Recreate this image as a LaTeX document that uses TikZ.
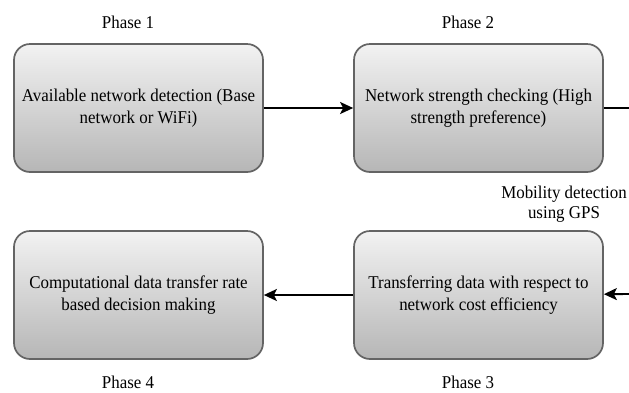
\documentclass[tikz,border=0pt]{standalone}
\usepackage{fontspec}
\setmainfont{Liberation Serif}[FakeStretch=0.94]
\usetikzlibrary{arrows.meta}
\definecolor{boxtop}{RGB}{242,242,242}
\definecolor{boxbottom}{RGB}{182,182,182}
\definecolor{boxline}{RGB}{100,100,100}
\begin{document}
\begin{tikzpicture}[x=1pt,y=-1pt,
  phasebox/.style={draw=boxline, line width=1.7pt, rounded corners=16pt,
    top color=boxtop, bottom color=boxbottom,
    minimum width=249pt, minimum height=128pt, inner sep=0pt,
    align=center, font=\fontsize{18}{21.5}\selectfont},
  flow/.style={line width=1.9pt, -{Stealth[length=13pt,width=12pt,inset=3pt]}},
  plain/.style={line width=1.9pt},
  phaselabel/.style={inner sep=0pt, font=\fontsize{18}{20}\selectfont}
]
\useasboundingbox (0,0) rectangle (629,392);

% the four process boxes
\node[phasebox] (p1) at (138.5,108) {Available network detection (Base\\network or WiFi)};
\node[phasebox] (p2) at (478.5,108) {Network strength checking (High\\strength preference)};
\node[phasebox] (p3) at (478.5,295) {Transferring data with respect to\\network cost efficiency};
\node[phasebox] (p4) at (138.5,295) {Computational data transfer rate\\based decision making};

% phase captions
\node[phaselabel, anchor=base] (ph1) at (128,28) {Phase 1};
\node[phaselabel, anchor=base] (ph2) at (468,28) {Phase 2};
\node[phaselabel, anchor=base] (ph3) at (468,388) {Phase 3};
\node[phaselabel, anchor=base] (ph4) at (128,388) {Phase 4};

% side note on the loop between phase 2 and phase 3
\node[phaselabel, align=center] (gps) at (564,204) {Mobility detection\\using GPS};

% connectors
\coordinate (outR) at (629,108);
\coordinate (inR) at (629,294);
\draw[flow] (p1) -- (p2);
\draw[plain] (p2) -- (outR);
\draw[flow] (inR) -- (p3);
\draw[flow] (p3) -- (p4);
\end{tikzpicture}
\end{document}
